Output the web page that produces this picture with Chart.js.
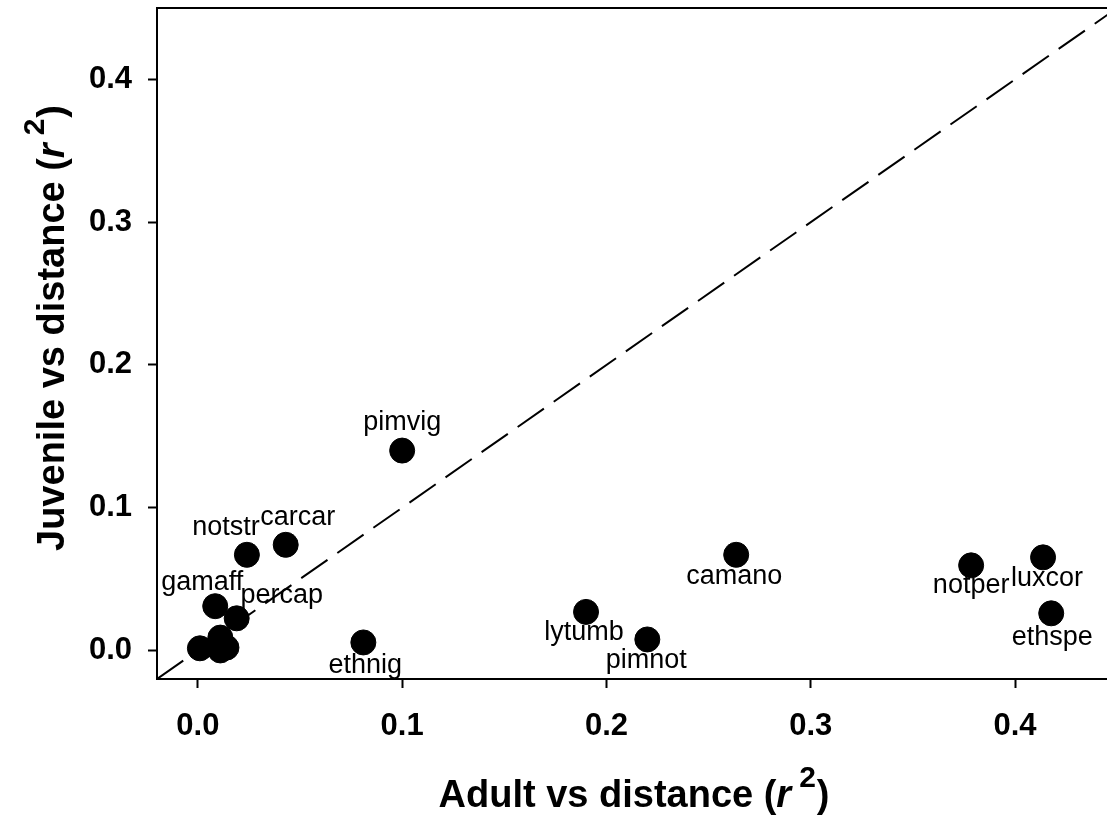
<!DOCTYPE html>
<html>
<head>
<meta charset="utf-8">
<script src="https://cdn.jsdelivr.net/npm/chart.js@4"></script>
<style>
  html, body { margin: 0; padding: 0; background: #fff; overflow: hidden; }
  #wrap { width: 1107px; height: 824px; }
</style>
</head>
<body>
<div id="wrap"><canvas id="scatterChart" width="1107" height="824"></canvas></div>
<script>
// species and r-squared values
const species = ["pimvig", "carcar", "notstr", "gamaff", "percap", "", "", "", "",
  "ethnig", "lytumb", "pimnot", "camano", "notper", "luxcor", "ethspe"];
const adultR2 = [0.100, 0.043, 0.024, 0.0085, 0.019, 0.001, 0.011, 0.014, 0.011,
  0.081, 0.190, 0.220, 0.2635, 0.3785, 0.4137, 0.4177];
const juvenileR2 = [0.140, 0.074, 0.067, 0.031, 0.0225, 0.0015, 0.009, 0.002, 0.000,
  0.0056, 0.027, 0.0077, 0.067, 0.0596, 0.0652, 0.026];
const tickValues = [0, 0.1, 0.2, 0.3, 0.4];
const oneToOne = [-0.02, 0.45];

// label placement (px offsets from the point centre)
const labelOffsets = {
  pimvig: [0, -28], carcar: [12, -27], notstr: [-21, -27], gamaff: [-13, -24],
  percap: [45, -23], ethnig: [2, 23], lytumb: [-2, 21], pimnot: [-1, 21],
  camano: [-2, 22], notper: [0, 20], luxcor: [4, 21], ethspe: [1, 24]
};

const FONT = "'Liberation Sans', Arial, sans-serif";

const points = adultR2.map((x, i) => ({ x: x, y: juvenileR2[i] }));
const diag = oneToOne.map(v => ({ x: v, y: v }));

function drawR2Title(ctx, prefix, size) {
  const parts = [
    { t: prefix + "(", f: "bold " + size + "px " + FONT, dy: 0 },
    { t: "r", f: "italic bold " + size + "px " + FONT, dy: 0 },
    { t: "2", f: "bold " + Math.round(size * 0.79) + "px " + FONT, dy: -size * 0.52, pre: 8 },
    { t: ")", f: "bold " + size + "px " + FONT, dy: 0, pre: 1 }
  ];
  let total = 0;
  parts.forEach(p => { ctx.font = p.f; p.w = ctx.measureText(p.t).width; total += p.w + (p.pre || 0); });
  let x = -total / 2;
  ctx.textBaseline = "alphabetic";
  ctx.textAlign = "left";
  ctx.fillStyle = "#000";
  parts.forEach(p => {
    x += p.pre || 0;
    ctx.font = p.f;
    ctx.fillText(p.t, x, p.dy);
    x += p.w;
  });
}

const extras = {
  id: "extras",
  afterDatasetsDraw(chart) {
    const ctx = chart.ctx;
    const xs = chart.scales.x, ys = chart.scales.y;
    const area = chart.chartArea;
    ctx.save();
    // point labels
    ctx.font = "27px " + FONT;
    ctx.fillStyle = "#000";
    ctx.textAlign = "center";
    ctx.textBaseline = "middle";
    species.forEach((name, i) => {
      if (!name) return;
      const off = labelOffsets[name] || [0, 0];
      ctx.fillText(name, xs.getPixelForValue(adultR2[i]) + off[0], ys.getPixelForValue(juvenileR2[i]) + off[1]);
    });
    // top frame line
    ctx.strokeStyle = "#000";
    ctx.lineWidth = 2;
    ctx.beginPath();
    ctx.moveTo(area.left, area.top);
    ctx.lineTo(area.right, area.top);
    ctx.stroke();
    // axis titles
    ctx.save();
    ctx.translate(634, 807);
    drawR2Title(ctx, "Adult vs distance ", 38);
    ctx.restore();
    ctx.save();
    ctx.translate(64, 328);
    ctx.rotate(-Math.PI / 2);
    drawR2Title(ctx, "Juvenile vs distance ", 38);
    ctx.restore();
    ctx.restore();
  }
};

function axisOpts(min, max) {
  return {
    type: "linear",
    min: min,
    max: max,
    afterBuildTicks: s => { s.ticks = tickValues.map(v => ({ value: v })); },
    ticks: {
      color: "#000",
      font: { family: FONT, size: 31, weight: "bold" },
      callback: v => v.toFixed(1)
    },
    grid: {
      drawOnChartArea: false,
      drawTicks: true,
      tickLength: 9,
      tickWidth: 2,
      color: "#000"
    },
    border: { display: true, color: "#000", width: 2 },
    title: { display: false }
  };
}

function noPad(s) {
  s.paddingTop = 0; s.paddingBottom = 0; s.paddingLeft = 0; s.paddingRight = 0;
}

const xAxis = axisOpts(-0.02, 0.445);
xAxis.ticks.padding = 20;
xAxis.afterFit = s => { s.height = 145; noPad(s); };
const yAxis = axisOpts(-0.02, 0.45);
yAxis.ticks.padding = 16;
yAxis.afterFit = s => { s.width = 157; noPad(s); };

new Chart(document.getElementById("scatterChart"), {
  type: "scatter",
  data: {
    datasets: [
      {
        label: "1:1",
        type: "line",
        data: diag,
        borderColor: "#000",
        borderWidth: 2,
        borderDash: [32, 12],
        pointRadius: 0,
        fill: false
      },
      {
        label: "species",
        data: points,
        backgroundColor: "#000",
        borderColor: "#000",
        pointRadius: 12.5,
        pointHoverRadius: 12.5
      }
    ]
  },
  options: {
    responsive: false,
    animation: false,
    events: [],
    layout: { autoPadding: false, padding: { top: 8, right: 0, left: 0, bottom: 0 } },
    plugins: { legend: { display: false }, tooltip: { enabled: false } },
    scales: { x: xAxis, y: yAxis }
  },
  plugins: [extras]
});
</script>
</body>
</html>
